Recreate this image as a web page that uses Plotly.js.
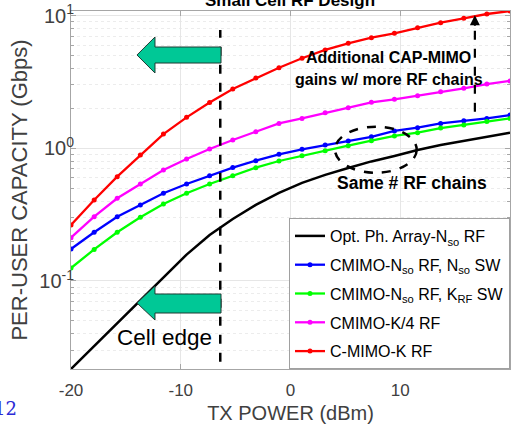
<!DOCTYPE html>
<html>
<head>
<meta charset="utf-8">
<script src="https://cdn.plot.ly/plotly-3.0.1.min.js"></script>
<style>html,body{margin:0;padding:0;background:#fff;}#chart{width:519px;height:434px;}</style>
</head>
<body>
<div id="chart"></div>
<script>
// TX power (dBm): 20 points spread evenly from -20 to 20
var txPower = [-20, -17.89, -15.79, -13.68, -11.58, -9.47, -7.37, -5.26, -3.16, -1.05,
               1.05, 3.16, 5.26, 7.37, 9.47, 11.58, 13.68, 15.79, 17.89, 20];

// Per-user capacity (Gbps)
var optPhArray = [0.0217, 0.0324, 0.0482, 0.0719, 0.107, 0.158, 0.222, 0.293, 0.374, 0.461,
                  0.548, 0.630, 0.711, 0.796, 0.875, 0.971, 1.06, 1.135, 1.22, 1.31];
var cmimoNsoNso = [0.174, 0.233, 0.305, 0.374, 0.458, 0.538, 0.622, 0.715, 0.807, 0.901,
                   0.983, 1.06, 1.135, 1.22, 1.35, 1.43, 1.54, 1.61, 1.68, 1.78];
var cmimoNsoKrf = [0.125, 0.173, 0.233, 0.302, 0.380, 0.458, 0.538, 0.622, 0.714, 0.802,
                   0.879, 0.959, 1.047, 1.14, 1.24, 1.31, 1.42, 1.50, 1.59, 1.68];
var cmimoK4 = [0.212, 0.305, 0.420, 0.538, 0.686, 0.830, 0.988, 1.155, 1.335, 1.54,
               1.68, 1.85, 2.02, 2.22, 2.34, 2.49, 2.67, 2.83, 3.05, 3.22];
var cmimoK = [0.264, 0.408, 0.611, 0.891, 1.28, 1.71, 2.21, 2.80, 3.39, 4.05,
              4.77, 5.51, 6.18, 6.81, 7.36, 8.11, 8.84, 9.54, 10.28, 10.83];

var seriesNames = ['Opt. Ph. Array-N<sub>so</sub> RF',
                   'CMIMO-N<sub>so</sub> RF, N<sub>so</sub> SW',
                   'CMIMO-N<sub>so</sub> RF, K<sub>RF</sub> SW',
                   'CMIMO-K/4 RF',
                   'C-MIMO-K RF'];

var xTicks = [-20, -10, 0, 10, 20];
var yTicks = [0.1, 1, 10];
var yTickText = ['10<sup>-1</sup>', '10<sup>0</sup>', '10<sup>1</sup>'];
var yMinorTicks = [0.03, 0.04, 0.05, 0.06, 0.07, 0.08, 0.09, 0.2, 0.3, 0.4, 0.5, 0.6, 0.7, 0.8, 0.9,
                   2, 3, 4, 5, 6, 7, 8, 9];

var cellEdge = -6.4;       // dBm, dashed vertical line
var gainArrowX = 16.8;     // dBm, dashed arrow

function tr(y, name, color, markers, width, grp) {
  return {
    x: txPower, y: y, name: name, type: 'scatter', legendgroup: grp,
    mode: markers ? 'lines+markers' : 'lines',
    line: {color: color, width: width},
    marker: {color: color, size: 5, symbol: 'circle'}
  };
}

var data = [
  tr(optPhArray, seriesNames[0], '#000000', false, 2.5, 'g1'),
  tr(cmimoNsoNso, seriesNames[1], '#0000ff', true, 2.3, 'g2'),
  tr(cmimoNsoKrf, seriesNames[2], '#00ff00', true, 2.3, 'g3'),
  tr(cmimoK4, seriesNames[3], '#ff00ff', true, 2.3, 'g4'),
  tr(cmimoK, seriesNames[4], '#ff0000', true, 2.3, 'g5')
];

var fnt = 'Arial, "Liberation Sans", sans-serif';
var arrowFill = '#00c896';

function note(text, x, y, size, extra) {
  var a = {xref: 'paper', yref: 'paper', x: x, y: y, xanchor: 'center', yanchor: 'middle',
           showarrow: false, text: text, font: {family: fnt, size: size, color: '#000000'}};
  for (var k in (extra || {})) a[k] = extra[k];
  return a;
}

var layout = {
  width: 519, height: 434,
  margin: {l: 71, r: 9, t: 11, b: 65},
  paper_bgcolor: '#ffffff', plot_bgcolor: '#ffffff',
  font: {family: fnt, color: '#262626', size: 16},
  showlegend: true,
  legend: {
    x: 1, xanchor: 'right', y: 0, yanchor: 'bottom',
    bgcolor: '#ffffff', bordercolor: '#a0a0a0', borderwidth: 1,
    font: {family: fnt, size: 16, color: '#000000'},
    tracegroupgap: 5
  },
  xaxis: {
    range: [-20, 20], tickvals: xTicks, ticktext: xTicks.map(String),
    showgrid: true, gridcolor: '#e6e6e6', gridwidth: 1,
    zeroline: false, showline: true, linecolor: '#a6a6a6', linewidth: 1, mirror: 'ticks',
    ticks: 'inside', ticklen: 5, tickcolor: '#a6a6a6', ticklabelstandoff: 6,
    tickfont: {family: fnt, size: 17, color: '#404040'},
    title: {text: 'TX POWER (dBm)', font: {family: fnt, size: 20, color: '#404040'}, standoff: 6}
  },
  yaxis: {
    type: 'log', range: [Math.log10(0.0217), Math.log10(10.83)],
    tickvals: yTicks, ticktext: yTickText,
    showgrid: true, gridcolor: '#e6e6e6', gridwidth: 1,
    zeroline: false, showline: true, linecolor: '#a6a6a6', linewidth: 1, mirror: 'ticks',
    ticks: 'inside', ticklen: 5, tickcolor: '#a6a6a6', ticklabelstandoff: -8,
    tickfont: {family: fnt, size: 20, color: '#404040'},
    minor: {tickvals: yMinorTicks, showgrid: true, gridcolor: '#ececec', griddash: 'dot',
            ticks: 'inside', ticklen: 3, tickcolor: '#a6a6a6'},
    title: {text: 'PER-USER CAPACITY (Gbps)', font: {family: fnt, size: 22, color: '#404040'}, standoff: 5}
  },
  shapes: [
    {type: 'line', xref: 'x', yref: 'paper', x0: cellEdge, x1: cellEdge, y0: 0.02, y1: 0.947,
     line: {color: '#000000', width: 2.5, dash: 'dash'}},
    {type: 'path', xref: 'paper', yref: 'paper',
     path: 'M0.1503,0.8771 L0.1913,0.9274 L0.1913,0.8994 L0.3417,0.8994 L0.3417,0.8547 L0.1913,0.8547 L0.1913,0.8268 Z',
     fillcolor: arrowFill, line: {color: '#1e3b33', width: 1}},
    {type: 'path', xref: 'paper', yref: 'paper',
     path: 'M0.1503,0.1844 L0.1913,0.2318 L0.1913,0.2095 L0.3417,0.2095 L0.3417,0.1564 L0.1913,0.1564 L0.1913,0.1369 Z',
     fillcolor: arrowFill, line: {color: '#1e3b33', width: 1}},
    {type: 'circle', xref: 'paper', yref: 'paper', x0: 0.6014, x1: 0.7875, y0: 0.5483, y1: 0.6768,
     line: {color: '#000000', width: 2.5, dash: 'dash'}},
    {type: 'line', xref: 'x', yref: 'paper', x0: gainArrowX, x1: gainArrowX, y0: 0.7187, y1: 0.965,
     line: {color: '#000000', width: 2.2, dash: 'dash'}}
  ],
  annotations: [
    {xref: 'x', yref: 'paper', x: gainArrowX, y: 0.988, ax: 0, ay: 12, axref: 'pixel', ayref: 'pixel',
     showarrow: true, arrowhead: 2, arrowsize: 1, arrowwidth: 2, arrowcolor: '#000000', text: ''},
    note('<b>Small Cell RF Design</b>', 0.4996, 1.0, 17, {yanchor: 'bottom', yshift: -1}),
    note('<b>Additional CAP-MIMO</b>', 0.7221, 0.8715, 16),
    note('<b>gains w/ more RF chains</b>', 0.7244, 0.8073, 16),
    note('<b>Same # RF chains</b>', 0.7765, 0.5196, 17.5),
    note('Cell edge', 0.2141, 0.0866, 22.5),
    note('12', -0.119, -0.109, 18, {xanchor: 'right',
         font: {family: '"DejaVu Serif", "Liberation Serif", serif', size: 18, color: '#2b2bd6'}})
  ]
};

Plotly.newPlot('chart', data, layout, {displayModeBar: false, staticPlot: true});
</script>
</body>
</html>
